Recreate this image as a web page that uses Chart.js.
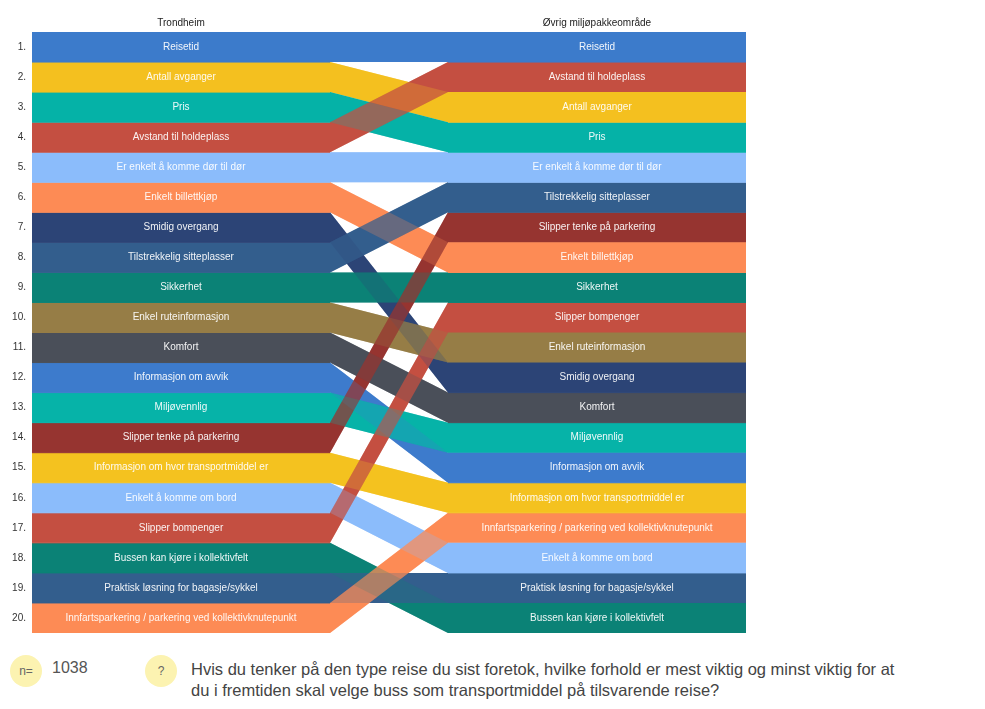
<!DOCTYPE html>
<html lang="no">
<head>
    <meta charset="UTF-8">
    <title>Viktigste forhold - rangering</title>
    <script src="https://cdn.jsdelivr.net/npm/chart.js@4.4.1/dist/chart.umd.min.js"></script>
    <style>
        body { margin: 0; background: #fff; font-family: Arial, "Liberation Sans", sans-serif; }
        #wrap { position: absolute; left: 0; top: 0; width: 746px; height: 633px; }
        .bubble { position: absolute; width: 32px; height: 32px; border-radius: 50%; background: #fcf3b1;
                  color: #666; font-size: 12px; line-height: 32px; text-align: center; }
        #n { position: absolute; left: 52px; top: 659px; font-size: 16px; color: #555; }
        #question { position: absolute; left: 191px; top: 659px; width: 725px; font-size: 16.5px; line-height: 21px; color: #444; }
    </style>
</head>
<body>
    <div id="wrap"><canvas id="rankChart"></canvas></div>

    <div class="bubble" style="left:10px; top:655px;">n=</div>
    <div id="n">1038</div>
    <div class="bubble" style="left:145px; top:655px;">?</div>
    <div id="question">Hvis du tenker på den type reise du sist foretok, hvilke forhold er mest viktig og minst viktig for at du i fremtiden skal velge buss som transportmiddel på tilsvarende reise?</div>

    <script>
        // data
        const headers = ['Trondheim', 'Øvrig miljøpakkeområde'];
        const categories = [
            'Reisetid',
            'Antall avganger',
            'Pris',
            'Avstand til holdeplass',
            'Er enkelt å komme dør til dør',
            'Enkelt billettkjøp',
            'Smidig overgang',
            'Tilstrekkelig sitteplasser',
            'Sikkerhet',
            'Enkel ruteinformasjon',
            'Komfort',
            'Informasjon om avvik',
            'Miljøvennlig',
            'Slipper tenke på parkering',
            'Informasjon om hvor transportmiddel er',
            'Enkelt å komme om bord',
            'Slipper bompenger',
            'Bussen kan kjøre i kollektivfelt',
            'Praktisk løsning for bagasje/sykkel',
            'Innfartsparkering / parkering ved kollektivknutepunkt'
        ];
        const rankTrondheim = [1, 2, 3, 4, 5, 6, 7, 8, 9, 10, 11, 12, 13, 14, 15, 16, 17, 18, 19, 20];
        const rankOvrig     = [1, 3, 4, 2, 5, 8, 12, 6, 9, 11, 13, 15, 14, 7, 16, 18, 10, 20, 19, 17];

        // styles
        const colors = [
            '#3c7bcb', '#f4c01f', '#05b2a7', '#c44f41', '#8bbcfb',
            '#fd8b55', '#2c4476', '#335e8d', '#0b8276', '#967d46',
            '#4a4f59', '#3d7bcc', '#06b3a8', '#963430', '#f4c21f',
            '#8bbcfb', '#c44f41', '#0b8276', '#335e8d', '#fd8b55'
        ];
        const overlayAlpha = 0.5;

        // layout along x (axis units): left column, gap with bands, right column
        const colW = 298, gapW = 118;
        const xL0 = 0, xL1 = colW, xR0 = colW + gapW, xR1 = 2 * colW + gapW;
        const midL = colW / 2, midR = xR0 + colW / 2;

        function withAlpha(hex, a) {
            const n = parseInt(hex.slice(1), 16);
            return `rgba(${(n >> 16) & 255},${(n >> 8) & 255},${n & 255},${a})`;
        }

        function edge(xs, ys) {
            return xs.map((x, k) => ({ x: x, y: ys[k] }));
        }

        const hidden = { borderWidth: 0, pointRadius: 0, pointHoverRadius: 0, showLine: true, fill: false };
        const datasets = [];
        // pushes a top edge and a bottom edge filled against it
        function strip(xs, topYs, botYs, color, order, seam) {
            datasets.push({ ...hidden, order: order, data: edge(xs, topYs) });
            datasets.push({ ...hidden, order: order, data: edge(xs, botYs), fill: '-1', backgroundColor: color,
                borderWidth: seam ? 1 : 0, borderColor: color });
        }

        categories.forEach((c, i) => {
            const l = rankTrondheim[i], r = rankOvrig[i];
            strip([xL0, xL1], [l - 0.5, l - 0.5], [l + 0.5, l + 0.5], colors[i], 100, l < 20);
            strip([xR0, xR1], [r - 0.5, r - 0.5], [r + 0.5, r + 0.5], colors[i], 100, r < 20);
            // solid band, then a see-through copy on top so crossings blend
            strip([xL1, xR0], [l - 0.5, r - 0.5], [l + 0.5, r + 0.5], colors[i], 50 - l, false);
            strip([xL1, xR0], [l - 0.5, r - 0.5], [l + 0.5, r + 0.5], withAlpha(colors[i], overlayAlpha), -l, false);
        });

        const barLabels = {
            id: 'barLabels',
            afterDatasetsDraw(chart) {
                const { ctx, scales: { x, y } } = chart;
                ctx.save();
                ctx.font = '10px Arial, "Liberation Sans", sans-serif';
                ctx.textAlign = 'center';
                ctx.textBaseline = 'middle';
                ctx.fillStyle = 'rgba(255,255,255,0.93)';
                categories.forEach((c, i) => {
                    ctx.fillText(c, x.getPixelForValue(midL), y.getPixelForValue(rankTrondheim[i]));
                    ctx.fillText(c, x.getPixelForValue(midR), y.getPixelForValue(rankOvrig[i]));
                });
                ctx.restore();
            }
        };

        new Chart('rankChart', {
            type: 'scatter',
            data: { datasets: datasets },
            options: {
                responsive: true,
                maintainAspectRatio: false,
                animation: false,
                events: [],
                layout: { padding: 0 },
                plugins: { legend: { display: false }, tooltip: { enabled: false } },
                scales: {
                    x: {
                        type: 'linear',
                        position: 'top',
                        min: xL0,
                        max: xR1,
                        grid: { display: false, drawTicks: false },
                        border: { display: false },
                        afterBuildTicks: s => { s.ticks = [{ value: midL }, { value: midR }]; },
                        afterFit: s => { s.height = 32; s.paddingLeft = 0; s.paddingRight = 0; },
                        ticks: {
                            padding: 3,
                            color: '#222',
                            font: { size: 10, family: 'Arial, "Liberation Sans", sans-serif' },
                            callback: (v, idx) => headers[idx]
                        }
                    },
                    y: {
                        type: 'linear',
                        reverse: true,
                        min: 0.5,
                        max: 20.5,
                        grid: { display: false, drawTicks: false },
                        border: { display: false },
                        afterBuildTicks: s => { s.ticks = rankTrondheim.map(v => ({ value: v })); },
                        afterFit: s => { s.width = 32; s.paddingTop = 0; s.paddingBottom = 0; },
                        ticks: {
                            padding: 6,
                            color: '#333',
                            font: { size: 10, family: 'Arial, "Liberation Sans", sans-serif' },
                            callback: v => v + '.'
                        }
                    }
                }
            },
            plugins: [barLabels]
        });
    </script>
</body>
</html>
